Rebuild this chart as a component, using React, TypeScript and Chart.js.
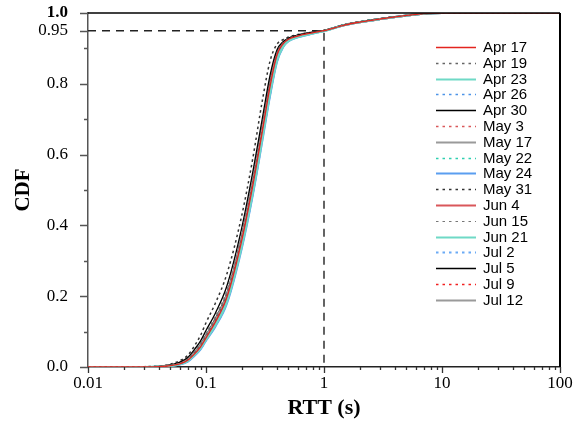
import React, { useEffect, useRef } from "react";
import { Chart, registerables } from "chart.js";

Chart.register(...registerables);

const SERIF = '"Liberation Serif", "Times New Roman", serif';
const SANS = '"Liberation Sans", Arial, sans-serif';

// RTT sample points (seconds), shared by all series
const rttSeconds = [0.01, 0.03, 0.04, 0.05, 0.06, 0.07, 0.08, 0.09, 0.1, 0.12, 0.15, 0.2, 0.25, 0.3, 0.35, 0.4, 0.45, 0.5, 0.6, 0.8, 1, 1.5, 2, 3, 5, 7, 10, 100];

const cdfApr17 = [0, 0, 0.001, 0.004, 0.009, 0.019, 0.037, 0.057, 0.082, 0.127, 0.196, 0.355, 0.515, 0.665, 0.795, 0.882, 0.913, 0.926, 0.935, 0.944, 0.95, 0.966, 0.974, 0.983, 0.993, 0.998, 1, 1];
const cdfApr19 = [0, 0, 0.001, 0.004, 0.01, 0.021, 0.041, 0.062, 0.088, 0.134, 0.205, 0.365, 0.525, 0.675, 0.805, 0.888, 0.916, 0.928, 0.937, 0.945, 0.95, 0.967, 0.975, 0.984, 0.993, 0.998, 1, 1];
const cdfApr23 = [0, 0, 0.001, 0.003, 0.008, 0.017, 0.034, 0.053, 0.077, 0.118, 0.183, 0.338, 0.495, 0.645, 0.775, 0.866, 0.905, 0.921, 0.932, 0.942, 0.949, 0.966, 0.974, 0.983, 0.993, 0.998, 1, 1];
const cdfApr26 = [0, 0, 0.001, 0.003, 0.009, 0.018, 0.036, 0.055, 0.08, 0.123, 0.19, 0.347, 0.505, 0.655, 0.785, 0.874, 0.909, 0.924, 0.934, 0.943, 0.949, 0.966, 0.974, 0.983, 0.993, 0.998, 1, 1];
const cdfApr30 = [0, 0, 0.002, 0.006, 0.014, 0.027, 0.05, 0.074, 0.103, 0.152, 0.228, 0.39, 0.553, 0.702, 0.826, 0.896, 0.919, 0.929, 0.938, 0.946, 0.951, 0.967, 0.975, 0.984, 0.993, 0.998, 1, 1];
const cdfMay3 = [0, 0, 0.001, 0.004, 0.01, 0.02, 0.039, 0.06, 0.086, 0.131, 0.201, 0.36, 0.52, 0.67, 0.8, 0.885, 0.914, 0.927, 0.936, 0.945, 0.95, 0.967, 0.975, 0.984, 0.993, 0.998, 1, 1];
const cdfMay17 = [0, 0, 0.001, 0.004, 0.01, 0.021, 0.04, 0.061, 0.087, 0.133, 0.203, 0.362, 0.522, 0.672, 0.802, 0.886, 0.915, 0.927, 0.936, 0.945, 0.95, 0.967, 0.974, 0.983, 0.993, 0.998, 1, 1];
const cdfMay22 = [0, 0, 0.001, 0.003, 0.008, 0.017, 0.035, 0.054, 0.078, 0.12, 0.186, 0.342, 0.5, 0.65, 0.78, 0.87, 0.907, 0.922, 0.933, 0.943, 0.949, 0.966, 0.974, 0.983, 0.993, 0.998, 1, 1];
const cdfMay24 = [0, 0, 0.001, 0.003, 0.007, 0.015, 0.032, 0.05, 0.074, 0.114, 0.178, 0.332, 0.488, 0.638, 0.768, 0.862, 0.903, 0.92, 0.931, 0.942, 0.949, 0.966, 0.974, 0.983, 0.993, 0.998, 1, 1];
const cdfMay31 = [0, 0.001, 0.003, 0.008, 0.018, 0.033, 0.06, 0.09, 0.125, 0.18, 0.262, 0.425, 0.592, 0.752, 0.866, 0.912, 0.925, 0.932, 0.939, 0.946, 0.951, 0.967, 0.975, 0.984, 0.993, 0.998, 1, 1];
const cdfJun4 = [0, 0, 0.001, 0.004, 0.009, 0.02, 0.038, 0.058, 0.084, 0.129, 0.199, 0.358, 0.518, 0.668, 0.798, 0.884, 0.914, 0.926, 0.935, 0.944, 0.95, 0.966, 0.974, 0.983, 0.993, 0.998, 1, 1];
const cdfJun15 = [0, 0, 0.002, 0.005, 0.012, 0.024, 0.045, 0.068, 0.095, 0.143, 0.216, 0.376, 0.538, 0.688, 0.815, 0.891, 0.917, 0.928, 0.937, 0.945, 0.95, 0.967, 0.975, 0.984, 0.993, 0.998, 1, 1];
const cdfJun21 = [0, 0, 0.001, 0.003, 0.008, 0.018, 0.035, 0.055, 0.079, 0.121, 0.188, 0.345, 0.502, 0.652, 0.782, 0.872, 0.908, 0.923, 0.933, 0.943, 0.949, 0.966, 0.974, 0.983, 0.993, 0.998, 1, 1];
const cdfJul2 = [0, 0, 0.001, 0.003, 0.008, 0.016, 0.033, 0.052, 0.076, 0.117, 0.182, 0.337, 0.493, 0.643, 0.773, 0.865, 0.905, 0.921, 0.932, 0.942, 0.949, 0.966, 0.974, 0.983, 0.993, 0.998, 1, 1];
const cdfJul5 = [0, 0, 0.001, 0.005, 0.011, 0.022, 0.042, 0.064, 0.09, 0.137, 0.208, 0.367, 0.528, 0.678, 0.808, 0.888, 0.916, 0.928, 0.937, 0.945, 0.95, 0.967, 0.975, 0.984, 0.993, 0.998, 1, 1];
const cdfJul9 = [0, 0, 0.001, 0.004, 0.01, 0.02, 0.039, 0.059, 0.085, 0.13, 0.2, 0.36, 0.52, 0.67, 0.8, 0.885, 0.915, 0.927, 0.936, 0.945, 0.95, 0.967, 0.974, 0.983, 0.993, 0.998, 1, 1];
const cdfJul12 = [0, 0, 0.001, 0.004, 0.009, 0.019, 0.037, 0.057, 0.083, 0.128, 0.198, 0.356, 0.517, 0.668, 0.797, 0.883, 0.913, 0.926, 0.935, 0.944, 0.95, 0.966, 0.974, 0.983, 0.993, 0.998, 1, 1];

const seriesLabels = ["Apr 17", "Apr 19", "Apr 23", "Apr 26", "Apr 30", "May 3", "May 17", "May 22", "May 24", "May 31", "Jun 4", "Jun 15", "Jun 21", "Jul 2", "Jul 5", "Jul 9", "Jul 12"];
const seriesValues = [cdfApr17, cdfApr19, cdfApr23, cdfApr26, cdfApr30, cdfMay3, cdfMay17, cdfMay22, cdfMay24, cdfMay31, cdfJun4, cdfJun15, cdfJun21, cdfJul2, cdfJul5, cdfJul9, cdfJul12];
const seriesColors = ["#e3241f", "#666666", "#6fd9c6", "#4d94e8", "#000000", "#d9575a", "#9a9a9a", "#2fcfb0", "#5a9ef0", "#333333", "#d9575a", "#777777", "#6fd9c6", "#6aaaf5", "#000000", "#f22020", "#9a9a9a"];
const seriesDotted = [false, true, false, true, false, true, false, true, false, true, false, true, false, true, false, true, false];
const seriesWidths = [1.3, 1.3, 2.2, 1.3, 1.3, 1.3, 2, 1.3, 2, 1.5, 2, 1.2, 2, 2, 1.3, 1.3, 2];

const xTickValues = [0.01, 0.1, 1, 10, 100];
const xTickLabels = ["0.01", "0.1", "1", "10", "100"];
const yTickValues = [0, 0.2, 0.4, 0.6, 0.8, 0.95, 1.0];
const yTickLabels = ["0.0", "0.2", "0.4", "0.6", "0.8", "0.95", "1.0"];
const yMinorValues = [0.1, 0.3, 0.5, 0.7, 0.9];
const xMinorMultipliers = [2, 3, 4, 5, 6, 7, 8, 9];

// 95th-percentile guide
const guideX = [0.01, 1, 1];
const guideY = [0.95, 0.95, 0];

const framePlugin = {
  id: "frameTicks",
  afterDraw(chart: any) {
    const { ctx, chartArea, scales } = chart;
    const { left, right, top, bottom } = chartArea;
    const xs = scales.x;
    const ys = scales.y;
    ctx.save();
    ctx.strokeStyle = "#000";
    ctx.lineWidth = 1.5;
    ctx.beginPath();
    ctx.moveTo(left, top);
    ctx.lineTo(right, top);
    ctx.stroke();
    ctx.lineWidth = 2;
    ctx.beginPath();
    ctx.moveTo(right, top);
    ctx.lineTo(right, bottom);
    ctx.stroke();
    ctx.strokeStyle = "#555";
    ctx.lineWidth = 1.3;
    ctx.beginPath();
    yTickValues.forEach((v) => {
      const p = Math.round(ys.getPixelForValue(v)) + 0.5;
      ctx.moveTo(left - 8, p);
      ctx.lineTo(left, p);
    });
    yMinorValues.forEach((v) => {
      const p = Math.round(ys.getPixelForValue(v)) + 0.5;
      ctx.moveTo(left - 4, p);
      ctx.lineTo(left, p);
    });
    ctx.stroke();
    ctx.strokeStyle = "#333";
    ctx.beginPath();
    xTickValues.forEach((v) => {
      const p = Math.round(xs.getPixelForValue(v)) + 0.5;
      ctx.moveTo(p, bottom);
      ctx.lineTo(p, bottom + 6);
    });
    xTickValues.slice(0, -1).forEach((d) => {
      xMinorMultipliers.forEach((m) => {
        const p = Math.round(xs.getPixelForValue(d * m)) + 0.5;
        ctx.moveTo(p, bottom);
        ctx.lineTo(p, bottom + 3);
      });
    });
    ctx.stroke();
    ctx.restore();
  },
};

const legendPlugin = {
  id: "lineLegend",
  afterDatasetsDraw(chart: any) {
    const { ctx } = chart;
    const x0 = 436;
    const x1 = 476;
    const tx = 483;
    const y0 = 47;
    const step = 15.8;
    ctx.save();
    ctx.font = `15px ${SANS}`;
    ctx.textBaseline = "middle";
    ctx.textAlign = "left";
    seriesLabels.forEach((label, i) => {
      const y = Math.round(y0 + i * step) + 0.5;
      ctx.strokeStyle = seriesColors[i];
      ctx.lineWidth = seriesWidths[i];
      ctx.setLineDash(seriesDotted[i] ? [2.5, 4] : []);
      ctx.beginPath();
      ctx.moveTo(x0, y);
      ctx.lineTo(x1, y);
      ctx.stroke();
      ctx.setLineDash([]);
      ctx.fillStyle = "#000";
      ctx.fillText(label, tx, y + 0.5);
    });
    ctx.restore();
  },
};

export default function App() {
  const canvasRef = useRef<HTMLCanvasElement | null>(null);

  useEffect(() => {
    if (!canvasRef.current) return;
    const datasets: any[] = seriesLabels.map((label, i) => ({
      label,
      data: rttSeconds.map((x, j) => ({ x, y: seriesValues[i][j] })),
      borderColor: seriesColors[i],
      borderWidth: seriesWidths[i],
      borderDash: seriesDotted[i] ? [2.5, 3] : [],
      pointRadius: 0,
      fill: false,
      cubicInterpolationMode: "monotone",
    }));
    datasets.push({
      label: "95%",
      data: guideX.map((x, j) => ({ x, y: guideY[j] })),
      borderColor: "#222",
      borderWidth: 1.4,
      borderDash: [8, 6],
      pointRadius: 0,
      fill: false,
      tension: 0,
    });

    const chart = new Chart(canvasRef.current, {
      type: "line",
      data: { datasets },
      plugins: [framePlugin, legendPlugin],
      options: {
        animation: false,
        responsive: false,
        devicePixelRatio: 1,
        layout: { padding: { top: 13, right: 14, left: 0, bottom: 0 } },
        plugins: { legend: { display: false }, tooltip: { enabled: false } },
        scales: {
          x: {
            type: "logarithmic",
            min: 0.01,
            max: 100,
            grid: { display: false },
            border: { display: true, color: "#222", width: 1.5 },
            afterBuildTicks: (scale: any) => {
              scale.ticks = xTickValues.map((v) => ({ value: v, major: true }));
            },
            afterFit: (scale: any) => {
              scale.height = 56;
              scale.paddingLeft = 0;
              scale.paddingRight = 0;
            },
            ticks: {
              autoSkip: false,
              maxRotation: 0,
              padding: -2,
              color: "#000",
              font: { family: SERIF, size: 17 },
              callback: (v: any) => {
                const i = xTickValues.indexOf(Number(v));
                return i >= 0 ? xTickLabels[i] : "";
              },
            },
            title: {
              display: true,
              text: "RTT (s)",
              color: "#000",
              font: { family: SERIF, size: 22, weight: "bold" },
              padding: { top: 0, bottom: 1 },
            },
          },
          y: {
            type: "linear",
            min: 0,
            max: 1,
            grid: { display: false },
            border: { display: true, color: "#555", width: 1.5 },
            afterBuildTicks: (scale: any) => {
              scale.ticks = yTickValues.map((v) => ({ value: v }));
            },
            afterFit: (scale: any) => {
              scale.width = 88;
              scale.paddingTop = 0;
              scale.paddingBottom = 0;
            },
            ticks: {
              autoSkip: false,
              padding: 12,
              color: "#000",
              font: (ctx: any) => ({
                family: SERIF,
                size: 17,
                weight: ctx.tick && ctx.tick.value === 1 ? "bold" : "normal",
              }),
              callback: (v: any) => {
                const i = yTickValues.indexOf(Number(v));
                return i >= 0 ? yTickLabels[i] : "";
              },
            },
            title: {
              display: true,
              text: "CDF",
              color: "#000",
              font: { family: SERIF, size: 21, weight: "bold" },
              padding: { top: 11, bottom: 0 },
            },
          },
        },
      } as any,
    });
    return () => chart.destroy();
  }, []);

  return (
    <div style={{ position: "fixed", left: 0, top: 0, width: 574, height: 423, background: "#fff" }}>
      <canvas ref={canvasRef} width={574} height={423} style={{ display: "block" }} />
    </div>
  );
}
